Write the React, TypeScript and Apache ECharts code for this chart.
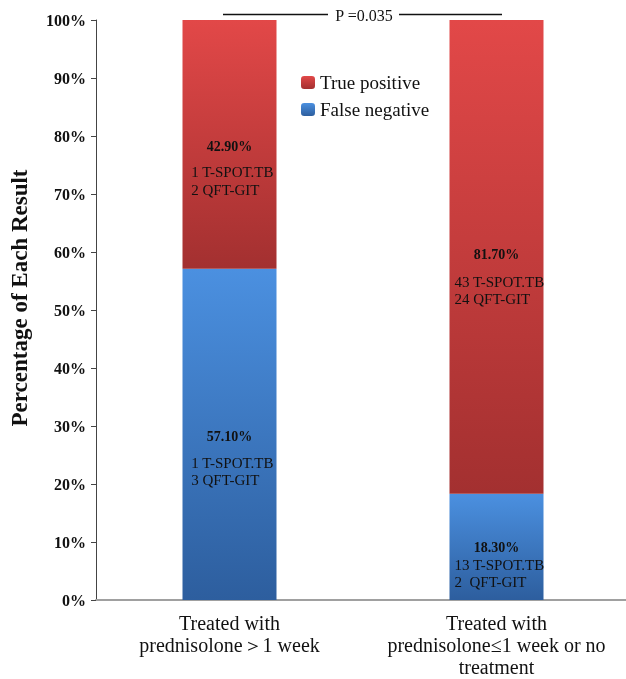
import React, { useEffect, useRef } from "react";
import * as echarts from "echarts";

const categories = [
  "Treated with\nprednisolone\uFF1E1 week",
  "Treated with\nprednisolone\u22641 week or no\ntreatment",
];
const seriesNames = ["True positive", "False negative"];
const falseNegative = [57.1, 18.3];
const truePositive = [42.9, 81.7];
const falseNegativeLabels = ["57.10%", "18.30%"];
const truePositiveLabels = ["42.90%", "81.70%"];
const fnTspot = ["1 T-SPOT.TB", "13 T-SPOT.TB"];
const fnQft = ["3 QFT-GIT", "2  QFT-GIT"];
const tpTspot = ["1 T-SPOT.TB", "43 T-SPOT.TB"];
const tpQft = ["2 QFT-GIT", "24 QFT-GIT"];
const yTicks = [0, 10, 20, 30, 40, 50, 60, 70, 80, 90, 100];
const yAxisTitle = "Percentage of Each Result";
const pValueText = "P =0.035";

const FONT = "Liberation Serif";

const redGrad = () =>
  new echarts.graphic.LinearGradient(0, 0, 0, 1, [
    { offset: 0, color: "#e24848" },
    { offset: 1, color: "#a33030" },
  ]);
const blueGrad = () =>
  new echarts.graphic.LinearGradient(0, 0, 0, 1, [
    { offset: 0, color: "#4b90e0" },
    { offset: 1, color: "#2d5e9e" },
  ]);

function labelFor(title: string, l1: string, l2: string, titleLH: number, subLH: number, offsetY: number) {
  return {
    show: true,
    position: "inside",
    offset: [0, offsetY],
    formatter: `{t|${title}}\n{s|${l1}}\n{s|${l2}}`,
    rich: {
      t: { fontFamily: FONT, fontSize: 14, fontWeight: "bold", color: "#111", lineHeight: titleLH, align: "center" },
      s: { fontFamily: FONT, fontSize: 15, color: "#111", lineHeight: subLH, align: "left", padding: [0, 0, 0, 6] },
    },
  };
}

export default function App() {
  const ref = useRef<HTMLDivElement>(null);
  useEffect(() => {
    document.body.style.margin = "0";
    const chart = echarts.init(ref.current!, undefined, { renderer: "svg" });
    const fnLabelCfg = [
      { t: 36, s: 17, off: 19 },
      { t: 17, s: 17, off: 18 },
    ];
    const tpLabelCfg = [
      { t: 34, s: 18, off: 20 },
      { t: 38, s: 17, off: 15 },
    ];
    chart.setOption({
      animation: false,
      textStyle: { fontFamily: FONT },
      grid: { left: 96, right: -4, top: 20, bottom: 79, outerBoundsMode: "none", containLabel: false },
      legend: {
        data: [seriesNames[0], seriesNames[1]],
        orient: "vertical",
        left: 296,
        top: 68,
        itemWidth: 14,
        itemHeight: 13,
        itemGap: 8,
        textStyle: { fontFamily: FONT, fontSize: 19, color: "#111" },
      },
      xAxis: {
        type: "category",
        data: categories,
        axisLine: { lineStyle: { color: "#a0a0a0", width: 2 } },
        axisTick: { show: false },
        axisLabel: {
          fontFamily: FONT,
          fontSize: 20,
          color: "#111",
          lineHeight: 22,
          margin: 12,
          interval: 0,
        },
      },
      yAxis: {
        type: "value",
        min: 0,
        max: 100,
        interval: 10,
        axisLine: { show: true, lineStyle: { color: "#444", width: 1 } },
        axisTick: { show: true, length: 5, lineStyle: { color: "#444" } },
        splitLine: { show: false },
        axisLabel: {
          formatter: (v: number) => (yTicks.includes(v) ? `${v}%` : ""),
          fontFamily: FONT,
          fontSize: 16,
          fontWeight: "bold",
          color: "#111",
          margin: 10,
        },
      },
      series: [
        {
          name: seriesNames[1],
          type: "bar",
          stack: "total",
          barWidth: 94,
          itemStyle: { color: blueGrad() },
          data: falseNegative.map((v, i) => ({
            value: v,
            itemStyle: { color: blueGrad() },
            label: labelFor(falseNegativeLabels[i], fnTspot[i], fnQft[i], fnLabelCfg[i].t, fnLabelCfg[i].s, fnLabelCfg[i].off),
          })),
        },
        {
          name: seriesNames[0],
          type: "bar",
          stack: "total",
          barWidth: 94,
          itemStyle: { color: redGrad() },
          data: truePositive.map((v, i) => ({
            value: v,
            itemStyle: { color: redGrad() },
            label: labelFor(truePositiveLabels[i], tpTspot[i], tpQft[i], tpLabelCfg[i].t, tpLabelCfg[i].s, tpLabelCfg[i].off),
          })),
        },
      ],
      graphic: [
        {
          type: "text",
          x: 19,
          y: 298,
          rotation: Math.PI / 2,
          style: {
            text: yAxisTitle,
            fontFamily: FONT,
            fontSize: 23,
            fontWeight: "bold",
            fill: "#111",
            align: "center",
            verticalAlign: "middle",
          },
        },
        { type: "line", shape: { x1: 223, y1: 14.5, x2: 328, y2: 14.5 }, style: { stroke: "#111", lineWidth: 1.5 } },
        { type: "line", shape: { x1: 399, y1: 14.5, x2: 502, y2: 14.5 }, style: { stroke: "#111", lineWidth: 1.5 } },
        {
          type: "text",
          x: 364,
          y: 15,
          style: {
            text: pValueText,
            fontFamily: FONT,
            fontSize: 16,
            fill: "#111",
            align: "center",
            verticalAlign: "middle",
          },
        },
      ],
    });
    return () => chart.dispose();
  }, []);
  return <div ref={ref} style={{ position: "fixed", left: 0, top: 0, width: 626, height: 679 }} />;
}
